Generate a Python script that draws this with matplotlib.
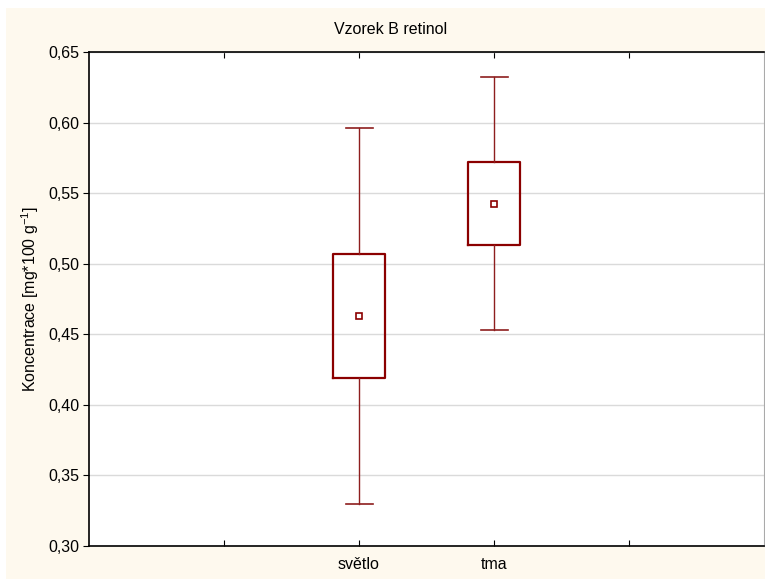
import matplotlib
matplotlib.use('Agg')
import matplotlib.pyplot as plt
from matplotlib.patches import Rectangle
from matplotlib.ticker import FuncFormatter, MultipleLocator

plt.rcParams['font.family'] = ['Liberation Sans', 'DejaVu Sans']
plt.rcParams['mathtext.default'] = 'regular'

# data
skupiny = ['světlo', 'tma']
pozice = [2, 3]
prumer = [0.463, 0.542]
q1 = [0.419, 0.513]
q3 = [0.507, 0.572]
wmin = [0.330, 0.453]
wmax = [0.596, 0.632]

stats = []
for i, g in enumerate(skupiny):
    stats.append({'label': g, 'mean': prumer[i], 'med': prumer[i],
                  'q1': q1[i], 'q3': q3[i],
                  'whislo': wmin[i], 'whishi': wmax[i], 'fliers': []})

fig = plt.figure(figsize=(7.65, 5.79), dpi=100, facecolor='white')
# krémové pozadí
fig.patches.append(Rectangle((6 / 765, 0), 1, 1 - 8 / 579, transform=fig.transFigure,
                             facecolor='#FEF9EE', edgecolor='none', zorder=-10))

ax = fig.add_axes([89 / 765, 1 - 546 / 579, 675 / 765, 494 / 579])
ax.set_facecolor('white')

cerv = '#8B0000'
ax.bxp(stats, positions=pozice, widths=0.39, showmeans=True, showfliers=False,
       boxprops=dict(color=cerv, linewidth=1.6),
       whiskerprops=dict(color='#8E1E1E', linewidth=1.0),
       capprops=dict(color='#8E1E1E', linewidth=1.2),
       medianprops=dict(linewidth=0),
       meanprops=dict(marker='s', markersize=4.5, markerfacecolor='white',
                      markeredgecolor=cerv, markeredgewidth=1.2),
       capwidths=0.2)

fs = 11.5
ax.set_xlim(0, 5)
ax.set_ylim(0.30, 0.65)
ax.set_xticks([1, 2, 3, 4])
ax.set_xticklabels(['', 'světlo', 'tma', ''], fontsize=fs)
ax.yaxis.set_major_locator(MultipleLocator(0.05))
ax.yaxis.set_major_formatter(FuncFormatter(lambda v, p: f'{v:.2f}'.replace('.', ',')))
ax.tick_params(axis='y', direction='out', length=4, labelsize=fs, pad=3)
ax.tick_params(axis='x', direction='in', length=4, top=True, labelsize=fs, pad=8)
ax.grid(axis='y', color='#DADADA', linewidth=1.0)
ax.set_axisbelow(True)

for s in ['left', 'bottom', 'top']:
    ax.spines[s].set_color('black')
    ax.spines[s].set_linewidth(1.2)
ax.spines['right'].set_color('#AAAAAA')

ax.set_ylabel('Koncentrace [mg*100 g$^{-1}$]', fontsize=fs, labelpad=5)
fig.text(391 / 765, 1 - 30 / 579, 'Vzorek B retinol', ha='center', va='center', fontsize=fs)

fig.savefig('out.png', dpi=100, facecolor=fig.get_facecolor())
